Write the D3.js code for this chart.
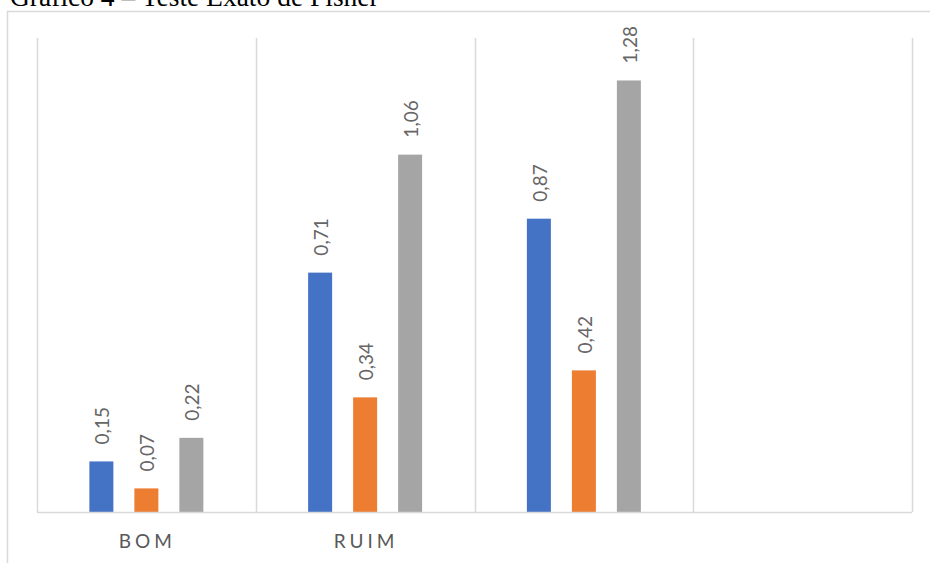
<!DOCTYPE html>
<html><head><meta charset="utf-8">
<script src="https://cdn.jsdelivr.net/npm/d3@7"></script>
<style>body{margin:0;background:#fff;}svg{display:block;}</style>
</head><body>
<svg id="c" width="930" height="563"></svg>
<script>
const title = "Gráfico 4 – Teste Exato de Fisher";
const categories = ["BOM", "RUIM", "", " "];
const seriesNames = ["Série 1", "Série 2", "Série 3"];
const series1 = [0.15, 0.71, 0.87, null];
const series2 = [0.07, 0.34, 0.42, null];
const series3 = [0.22, 1.06, 1.28, null];
const colors = ["#4472C4", "#ED7D31", "#A5A5A5"];
const yMax = 1.4;

const svg = d3.select("#c");
const W = 930, H = 563;
const m = {left: 37, right: 18, top: 40, bottom: 51};

// outer border
svg.append("path").attr("d", `M7.5,${H} V11.5 H${W}`).attr("fill","none").attr("stroke","#d9d9d9").attr("stroke-width",1.5);
// title
svg.append("text").attr("x",10).attr("y",6).attr("font-family","'Liberation Serif', 'Times New Roman', serif")
  .attr("font-size",27.5).attr("fill","#000").text(title);

const x = d3.scaleBand().domain(categories).range([m.left, W - m.right]).paddingInner(0).paddingOuter(0);
const y = d3.scaleLinear().domain([0, yMax]).range([H - m.bottom, m.top]);
const barW = 24, step = 45;
const xs = d3.scaleBand().domain(seriesNames).range([-step*1.5, step*1.5]);

// vertical gridlines (category boundaries)
const bounds = categories.map(c => x(c)).concat([x(categories[categories.length-1]) + x.bandwidth()]);
svg.append("g").selectAll("line").data(bounds).join("line")
  .attr("x1", d => Math.round(d)+0.5).attr("x2", d => Math.round(d)+0.5)
  .attr("y1", y(yMax) - 2).attr("y2", y(0)).attr("stroke","#d9d9d9").attr("stroke-width",1.5);

// bars
const allSeries = [series1, series2, series3];
const rows = [];
allSeries.forEach((s, si) => s.forEach((v, ci) => { if (v != null) rows.push({si, ci, v}); }));
const cx = d => x(categories[d.ci]) + x.bandwidth()/2 + xs(seriesNames[d.si]) + xs.bandwidth()/2;
svg.append("g").selectAll("rect").data(rows).join("rect")
  .attr("x", d => cx(d) - barW/2).attr("width", barW)
  .attr("y", d => y(d.v)).attr("height", d => y(0) - y(d.v))
  .attr("fill", d => colors[d.si]);

// x axis baseline
svg.append("line").attr("x1", m.left).attr("x2", W - m.right).attr("y1", y(0)+0.5).attr("y2", y(0)+0.5)
  .attr("stroke","#d9d9d9").attr("stroke-width",1.5);

// data labels
const fmt = v => d3.format(".2f")(v).replace(".", ",");
svg.append("g").selectAll("text").data(rows).join("text")
  .attr("transform", d => `translate(${cx(d)+1},${y(d.v)-17}) rotate(-90)`)
  .attr("dy","0.35em").attr("font-family","Lato, 'Open Sans', sans-serif").attr("font-size",19)
  .attr("fill","#666").text(d => fmt(d.v));

// category labels
svg.append("g").selectAll("text").data(categories).join("text")
  .attr("x", d => x(d) + x.bandwidth()/2 + 1).attr("y", 548)
  .attr("text-anchor","middle").attr("font-family","Lato, 'Open Sans', sans-serif").attr("font-size",19)
  .attr("letter-spacing", 4).attr("fill","#595959").text(d => d.trim());
</script>
</body></html>
